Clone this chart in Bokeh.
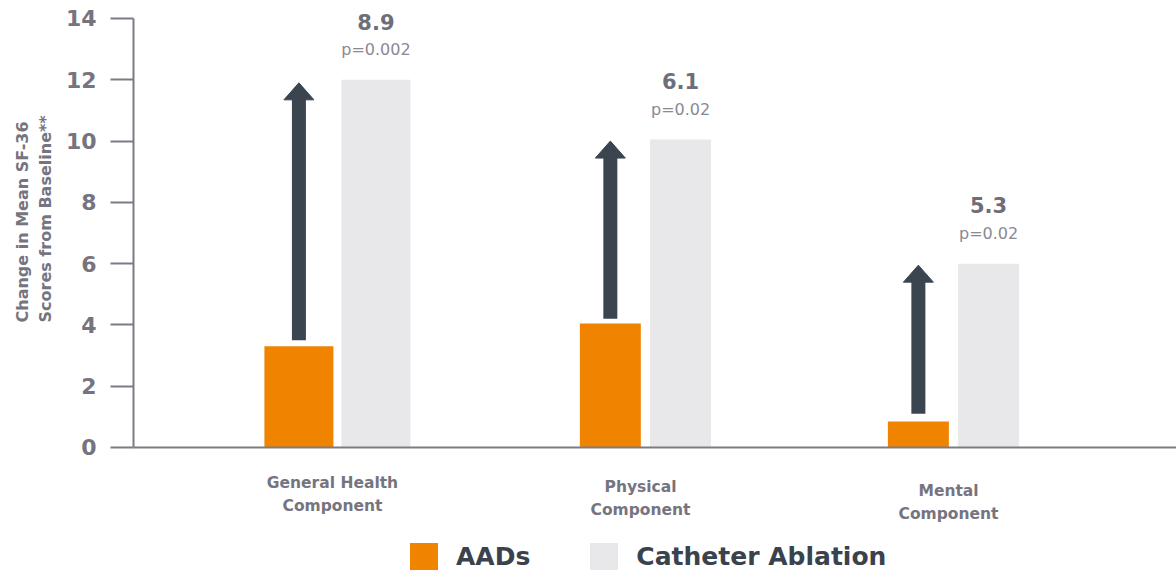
import numpy as np
from bokeh.plotting import figure
from bokeh.models import Label, Legend, LegendItem, FixedTicker, Range1d, Span, Title
from bokeh.embed import file_html
from bokeh.resources import INLINE

# ---- data ----
categories = ["General Health\nComponent", "Physical\nComponent", "Mental\nComponent"]
aads = [3.3, 4.05, 0.85]
catheter = [12.0, 10.05, 6.0]
differences = ["8.9", "6.1", "5.3"]
p_values = ["p=0.002", "p=0.02", "p=0.02"]
arrow_from = [3.5, 4.2, 1.1]
arrow_to = [11.9, 10.0, 5.95]
y_ticks = [0, 2, 4, 6, 8, 10, 12, 14]
series_names = ["AADs", "Catheter Ablation"]
y_title = "Change in Mean SF-36\nScores from Baseline**"

# ---- styles / layout ----
ORANGE = "#f08300"
LIGHT = "#e8e7ea"
ARROW = "#3b4550"
GREY_TXT = "#75747f"
AXIS = "#7c7b85"
DARK_TXT = "#3a434d"
FONT = "DejaVu Sans"

bar_offsets = np.array([0.125, 0.114, 0.114])
bar_widths = np.array([0.224, 0.198, 0.198])
label_drop = np.array([0.0, 0.13, 0.26])
PX_PER_UNIT = 30.64
X_PX = 308.0

p = figure(width=1176, height=570, x_range=Range1d(-0.662, 2.724),
           y_range=Range1d(-4.014, 14.587),
           output_backend="svg", toolbar_location=None,
           min_border_left=133, min_border_right=0, min_border_top=0, min_border_bottom=0)
p.outline_line_color = None
p.grid.visible = False
p.background_fill_color = "white"
p.xaxis.visible = False

# baseline (x axis line)
p.add_layout(Span(location=0, dimension="width", line_color=AXIS, line_width=2))

x = np.arange(len(categories))
r_aad = p.vbar(x=x - bar_offsets, top=aads, width=bar_widths, fill_color=ORANGE, line_color=None)
r_cat = p.vbar(x=x + bar_offsets, top=catheter, width=bar_widths, fill_color=LIGHT, line_color=None)

# arrows: shaft + head
head_h = 17 / PX_PER_UNIT
head_hw = 15 / X_PX
tips = np.array(arrow_to)
ax = x - bar_offsets
p.segment(x0=ax, y0=arrow_from, x1=ax, y1=tips - head_h + 0.02, line_color=ARROW,
          line_width=14, line_cap="butt")
p.patches(xs=[[a - head_hw, a + head_hw, a] for a in ax],
          ys=[[t - head_h, t - head_h, t] for t in tips],
          fill_color=ARROW, line_color=ARROW, line_width=1)

# annotations
for i in range(len(categories)):
    cx = i + bar_offsets[i]
    p.add_layout(Label(x=cx, y=catheter[i] + 1.9, text=differences[i],
                       text_align="center", text_baseline="middle",
                       text_font=FONT, text_font_style="bold",
                       text_font_size="21px", text_color="#6e6d79"))
    p.add_layout(Label(x=cx, y=catheter[i] + 0.98, text=p_values[i],
                       text_align="center", text_baseline="middle",
                       text_font=FONT, text_font_size="16px",
                       text_color="#8a8993"))
    p.add_layout(Label(x=i - 0.016, y=-1.53 - label_drop[i], text=categories[i],
                       text_align="center", text_baseline="middle",
                       text_font=FONT, text_font_style="bold",
                       text_font_size="15.5px", text_color=GREY_TXT,
                       text_line_height=1.25))

# y axis
yax = p.yaxis[0]
yax.bounds = (0, 14)
yax.ticker = FixedTicker(ticks=y_ticks)
yax.minor_tick_line_color = None
yax.major_tick_out = 23
yax.major_tick_in = 0
yax.major_tick_line_color = AXIS
yax.major_tick_line_width = 2
yax.axis_line_color = AXIS
yax.axis_line_width = 2
yax.major_label_text_font = FONT
yax.major_label_text_font_style = "bold"
yax.major_label_text_font_size = "22px"
yax.major_label_text_color = GREY_TXT
yax.major_label_standoff = 14

# y axis title (placed beside the 0-14 span, not the whole frame)
p.add_layout(Title(text=y_title, align="left", offset=248, standoff=15,
                   text_font=FONT, text_font_style="bold", text_font_size="16px",
                   text_color=GREY_TXT, text_line_height=1.2), "left")

legend = Legend(items=[LegendItem(label=series_names[0], renderers=[r_aad]),
                       LegendItem(label=series_names[1], renderers=[r_cat])],
                orientation="horizontal", location=(273, -4),
                padding=0, margin=0, spacing=56, label_standoff=15,
                glyph_width=35, glyph_height=35, label_height=35,
                label_text_font=FONT, label_text_font_style="bold",
                label_text_font_size="25px", label_text_color=DARK_TXT,
                border_line_color=None, background_fill_alpha=0)
p.add_layout(legend, "center")

open("out.html", "w").write(file_html(p, INLINE))
